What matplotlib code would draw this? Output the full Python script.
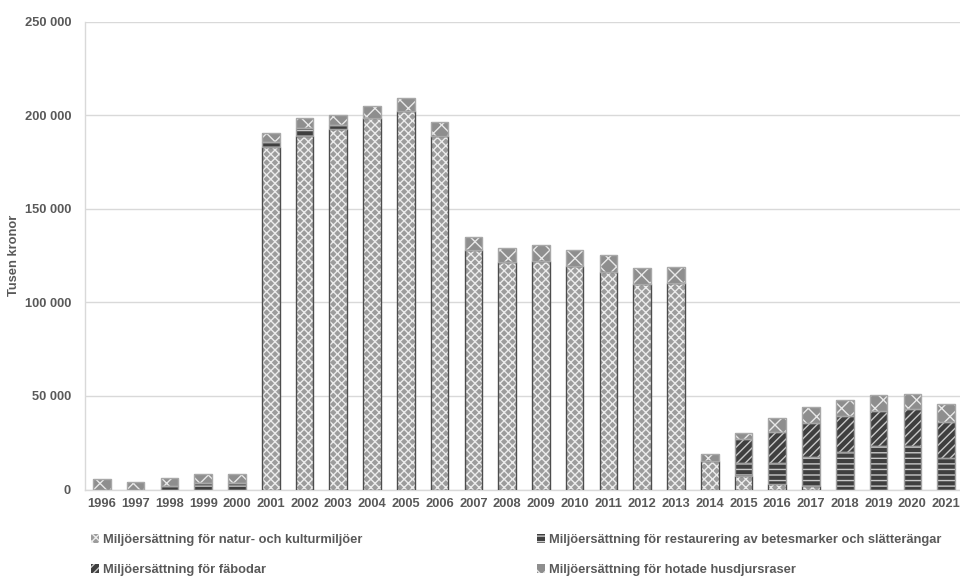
import numpy as np
import matplotlib
matplotlib.use("Agg")
import matplotlib.pyplot as plt
from matplotlib.patches import Patch

plt.rcParams['font.family'] = ['Liberation Sans', 'DejaVu Sans']
plt.rcParams['hatch.linewidth'] = 1.0

years = [str(y) for y in range(1996, 2022)]

# Tusen kronor
natur = [0, 0, 0, 0, 0, 183000, 189000, 192700, 198700, 202300, 188800,
         127900, 121300, 122200, 119300, 116300, 109900, 110300,
         15200, 7400, 3100, 1700, 0, 0, 0, 0]
restaurering = [0, 0, 2000, 3600, 3700, 2500, 4300, 2000, 0, 0, 0,
                0, 0, 0, 0, 0, 0, 0,
                0, 6900, 11200, 15800, 19900, 23200, 23400, 17000]
fabodar = [0, 0, 0, 0, 0, 0, 0, 0, 0, 0, 0,
           0, 0, 0, 0, 0, 0, 0,
           0, 12500, 16200, 18000, 19400, 18700, 19400, 19200]
hotade = [5400, 4000, 4300, 4500, 4400, 5000, 5000, 5600, 6100, 7100, 7500,
          7100, 7800, 8200, 8400, 8800, 8500, 8300,
          3800, 3200, 7800, 8400, 8500, 8700, 8200, 9300]

labels = ["Miljöersättning för natur- och kulturmiljöer",
          "Miljöersättning för restaurering av betesmarker och slätterängar",
          "Miljöersättning för fäbodar",
          "Miljöersättning för hotade husdjursraser"]

# face, hatch, hatch colour, edge colour
styles = [("#9c9c9c", "xxxx", "#ececec", "#4d4d4d"),
          ("#3f3f3f", "---", "#c8c8c8", "#a0a0a0"),
          ("#3f3f3f", "////", "#c8c8c8", "#a0a0a0"),
          ("#8e8e8e", "xx", "#e8e8e8", "#a8a8a8")]

txt = "#595959"

fig = plt.figure(figsize=(9.6, 5.77), dpi=100)
ax = fig.add_axes([85/960, 87.5/577, 878/960, 468/577])

x = np.arange(len(years))
w = 0.52
bottom = np.zeros(len(years))
handles = []
for vals, lab, (fc, hatch, hc, ec) in zip([natur, restaurering, fabodar, hotade], labels, styles):
    vals = np.array(vals, dtype=float)
    # hatch takes the edge colour, so draw hatch first, then the outline
    ax.bar(x, vals, w, bottom=bottom, color=fc, hatch=hatch, edgecolor=hc,
           linewidth=0, zorder=2)
    ax.bar(x, vals, w, bottom=bottom, fill=False, edgecolor=ec,
           linewidth=1.0, zorder=3)
    bottom += vals
    handles.append(Patch(facecolor=fc, hatch=hatch, edgecolor=hc, linewidth=0))

ax.set_xlim(-0.5, len(years) - 0.5)
ax.set_ylim(0, 250000)
ax.set_yticks(np.arange(0, 250001, 50000))
ax.set_yticklabels([f"{v:,}".replace(",", " ") for v in range(0, 250001, 50000)])
ax.set_xticks(x)
ax.set_xticklabels(years)
ax.grid(axis='y', color='#d9d9d9', linewidth=1.0, zorder=0)
ax.set_axisbelow(True)
for s in ['top', 'right']:
    ax.spines[s].set_visible(False)
for s in ['left', 'bottom']:
    ax.spines[s].set_color('#d9d9d9')
    ax.spines[s].set_linewidth(1.0)
ax.tick_params(length=0, colors=txt, labelsize=9.3, pad=6)
for t in ax.get_xticklabels() + ax.get_yticklabels():
    t.set_fontweight('bold')
ax.tick_params(axis='y', pad=10)
ax.set_ylabel("Tusen kronor", fontsize=9.3, fontweight='bold', color=txt, labelpad=3)

leg_kw = dict(frameon=False, fontsize=9.3, labelcolor=txt, handlelength=0.65,
              handleheight=0.65, handletextpad=0.3, labelspacing=1.4,
              borderpad=0, borderaxespad=0, loc='upper left')
l1 = fig.legend([handles[0], handles[2]], [labels[0], labels[2]],
                bbox_to_anchor=(91/960, 1 - 534/577), **leg_kw)
l2 = fig.legend([handles[1], handles[3]], [labels[1], labels[3]],
                bbox_to_anchor=(537/960, 1 - 534/577), **leg_kw)
for lg in (l1, l2):
    for t in lg.get_texts():
        t.set_fontweight('bold')

fig.savefig("out.png", dpi=100)
